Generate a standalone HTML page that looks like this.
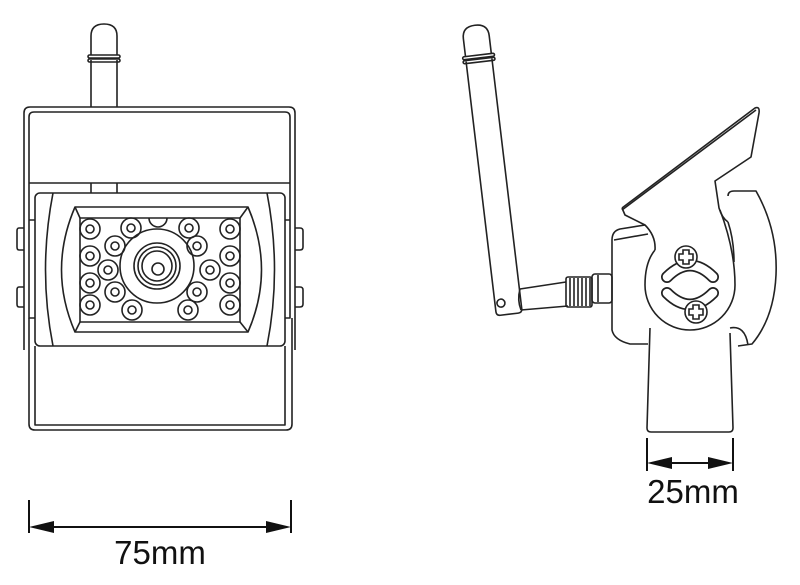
<!DOCTYPE html>
<html><head><meta charset="utf-8"><style>
html,body{margin:0;padding:0;background:#fff;}
svg{display:block}
text{font-family:"Liberation Sans",sans-serif;fill:#111}
</style></head><body>
<svg width="800" height="585" viewBox="0 0 800 585" xmlns="http://www.w3.org/2000/svg">
<g fill="none" stroke="#222" stroke-width="1.6" stroke-linejoin="round">
<!-- LEFT VIEW -->
<path d="M91,107 V60 M117,107 V60"/>
<path d="M91,55 V36 Q91,24 104,24 Q117,24 117,36 V55"/>
<rect x="88" y="55" width="32" height="3" rx="1.5"/>
<rect x="88" y="59" width="32" height="3" rx="1.5"/>
<path d="M91,183 V193 M117,183 V193"/>
<path d="M24,350 V113 Q24,107 30,107 H289 Q295,107 295,113 V350"/>
<path d="M29,183 V117 Q29,112 34,112 H285 Q290,112 290,117 V183"/>
<line x1="29" y1="183" x2="290" y2="183"/>
<path d="M24,228 H19 Q17,228 17,231 V247 Q17,250 19,250 H24"/>
<path d="M24,287 H19 Q17,287 17,290 V304 Q17,307 19,307 H24"/>
<path d="M295,228 H300 Q303,228 303,231 V247 Q303,250 300,250 H295"/>
<path d="M295,287 H300 Q303,287 303,290 V304 Q303,307 300,307 H295"/>
<path d="M29,183 V220 H35 M290,183 V220 H285 M29,220 V318 H35 M290,220 V318 H285"/>
<rect x="35" y="193" width="250" height="153" rx="5"/>
<path d="M53,193 Q38,270 53,346 M267,193 Q282,270 267,346"/>
<path d="M75,207 H248 Q275,270 248,332 H75 Q48,270 75,207 Z"/>
<rect x="80" y="218" width="160" height="104"/>
<line x1="75" y1="207" x2="80" y2="218"/><line x1="248" y1="207" x2="240" y2="218"/>
<line x1="75" y1="332" x2="80" y2="322"/><line x1="248" y1="332" x2="240" y2="322"/>
<path d="M29,318 V424 Q29,430 35,430 H286 Q292,430 292,424 V318"/>
<path d="M35,346 V425 H285 V346"/>
<circle cx="157" cy="266" r="37"/>
<circle cx="157" cy="266" r="23"/>
<circle cx="157" cy="266" r="19"/>
<circle cx="157" cy="266" r="15"/>
<circle cx="158" cy="269" r="6"/>
<path d="M149,218 A9,9 0 0 0 167,218"/>
<g>
<circle cx="90" cy="229" r="10"/><circle cx="90" cy="229" r="4"/>
<circle cx="131" cy="228" r="10"/><circle cx="131" cy="228" r="4"/>
<circle cx="189" cy="228" r="10"/><circle cx="189" cy="228" r="4"/>
<circle cx="230" cy="229" r="10"/><circle cx="230" cy="229" r="4"/>
<circle cx="115" cy="246" r="10"/><circle cx="115" cy="246" r="4"/>
<circle cx="197" cy="246" r="10"/><circle cx="197" cy="246" r="4"/>
<circle cx="90" cy="256" r="10"/><circle cx="90" cy="256" r="4"/>
<circle cx="230" cy="256" r="10"/><circle cx="230" cy="256" r="4"/>
<circle cx="108" cy="270" r="10"/><circle cx="108" cy="270" r="4"/>
<circle cx="210" cy="270" r="10"/><circle cx="210" cy="270" r="4"/>
<circle cx="90" cy="283" r="10"/><circle cx="90" cy="283" r="4"/>
<circle cx="230" cy="283" r="10"/><circle cx="230" cy="283" r="4"/>
<circle cx="115" cy="292" r="10"/><circle cx="115" cy="292" r="4"/>
<circle cx="197" cy="292" r="10"/><circle cx="197" cy="292" r="4"/>
<circle cx="90" cy="305" r="10"/><circle cx="90" cy="305" r="4"/>
<circle cx="132" cy="310" r="10"/><circle cx="132" cy="310" r="4"/>
<circle cx="188" cy="310" r="10"/><circle cx="188" cy="310" r="4"/>
<circle cx="230" cy="305" r="10"/><circle cx="230" cy="305" r="4"/>
</g>

<!-- RIGHT VIEW -->
<g transform="rotate(-6.8 479 60)">
<path d="M466,60 V312 Q466,316 470,316 H488 Q492,316 492,312 V60"/>
<path d="M466,55 V37 Q466,25 479,25 Q492,25 492,37 V55"/>
<rect x="463" y="55" width="32" height="3" rx="1.5"/>
<rect x="463" y="59" width="32" height="3" rx="1.5"/>
<circle cx="472" cy="304" r="4"/>
</g>
<path d="M520,289 L566,282 M521,310 L568,306 M520,289 Q517,300 521,310"/>
<rect x="566" y="277" width="26" height="30" rx="2"/>
<path d="M570,278 V306 M574,278 V306 M578,278 V306 M582,278 V306 M586,278 V306 M590,278 V306"/>
<rect x="592" y="274" width="20" height="29" rx="3"/>
<line x1="598" y1="275" x2="598" y2="302"/>
<path d="M645,225 L620,229 Q612,231 612,240 V330 Q614,340 630,344 H648"/>
<line x1="614" y1="240" x2="648" y2="234"/>
<path d="M622,208 L755,108 Q760,106 759,113 L751,157 L715,181 L719,208 Q722,218 728,222"/>
<path d="M622,208 L625,215 L645,225 Q656,236 655,250"/>
<path d="M622,210 L756,110"/>
<path d="M728,196 Q728,191 734,191 H756 Q778,230 776,275 Q774,318 752,344 L738,346"/>
<path d="M728,222 Q734,240 734,262"/>
<path d="M655,250 Q645,262 645,285 A45,45 0 0 0 735,285 Q735,250 720,210"/>
<path d="M650,328 L647,428 Q647,432 651,432 H729 Q733,432 733,428 L730,333"/>
<path d="M730,328 Q745,325 748,345"/>
</g>
<!-- slots -->
<g fill="none" stroke-linecap="round">
<path d="M667,277 Q690,254 713,277" stroke="#222" stroke-width="12"/>
<path d="M667,277 Q690,254 713,277" stroke="#fff" stroke-width="8.6"/>
<path d="M667,293 Q690,316 713,293" stroke="#222" stroke-width="12"/>
<path d="M667,293 Q690,316 713,293" stroke="#fff" stroke-width="8.6"/>
</g>
<g fill="#fff" stroke="#222" stroke-width="1.6">
<circle cx="686" cy="257" r="11"/>
<path d="M683,250 H689 V254 H693 V260 H689 V264 H683 V260 H679 V254 H683 Z"/>
<circle cx="696" cy="312" r="11"/>
<path d="M693,305 H699 V309 H703 V315 H699 V319 H693 V315 H689 V309 H693 Z"/>
</g>

<g stroke="#111" stroke-width="2" fill="none">
<line x1="29" y1="500" x2="29" y2="533"/>
<line x1="291" y1="500" x2="291" y2="533"/>
<line x1="40" y1="527" x2="280" y2="527"/>
<line x1="647" y1="438" x2="647" y2="471"/>
<line x1="733" y1="438" x2="733" y2="471"/>
<line x1="660" y1="463" x2="720" y2="463"/>
</g>
<g fill="#111">
<polygon points="29,527 54,521 54,533"/>
<polygon points="291,527 266,521 266,533"/>
<polygon points="647,463 672,457 672,469"/>
<polygon points="733,463 708,457 708,469"/>
</g>
<text x="160" y="564" font-size="33" text-anchor="middle">75mm</text>
<text x="693" y="503" font-size="33" text-anchor="middle">25mm</text>
</svg>
</body></html>
